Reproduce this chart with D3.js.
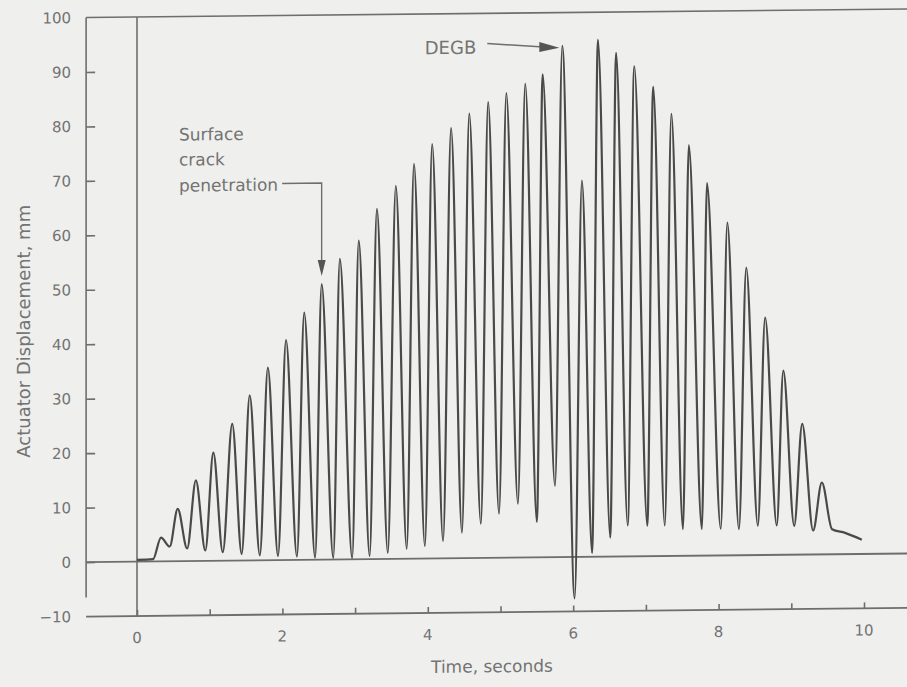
<!DOCTYPE html>
<html>
<head>
<meta charset="utf-8">
<script src="https://cdn.jsdelivr.net/npm/d3@7"></script>
<style>
  html, body { margin: 0; padding: 0; background: #efefed; }
  svg { display: block; }
  text { font-family: "DejaVu Sans", "Liberation Sans", sans-serif; fill: #737373; }
</style>
</head>
<body>
<svg id="chart" width="907" height="687"></svg>
<script>
// Actuator displacement record: successive turning points of the trace
// (time in seconds, displacement in mm).
const traceTime = [
  0.00, 0.22, 0.33, 0.45, 0.56, 0.69, 0.81, 0.94, 1.05, 1.18,
  1.31, 1.44, 1.55, 1.69, 1.80, 1.94, 2.05, 2.20, 2.30, 2.45,
  2.54, 2.70, 2.79, 2.96, 3.05, 3.20, 3.30, 3.45, 3.56, 3.71,
  3.81, 3.96, 4.06, 4.21, 4.32, 4.47, 4.57, 4.73, 4.83, 4.98,
  5.08, 5.24, 5.34, 5.50, 5.58, 5.75, 5.85, 6.02, 6.12, 6.26,
  6.34, 6.51, 6.59, 6.75, 6.84, 7.02, 7.10, 7.26, 7.35, 7.51,
  7.59, 7.77, 7.84, 8.03, 8.12, 8.28, 8.38, 8.54, 8.64, 8.80,
  8.89, 9.04, 9.15, 9.30, 9.42, 9.56, 9.74, 9.97
];
const traceDisp = [
  0.3, 0.4, 4.35, 2.7, 9.6, 2.3, 14.8, 1.9, 19.85, 1.55,
  25.1, 1.2, 30.3, 0.9, 35.35, 0.75, 40.4, 0.6, 45.4, 0.35,
  50.6, 0.25, 55.2, 0.2, 58.5, 0.55, 64.3, 1.1, 68.5, 1.8,
  72.5, 2.3, 76.1, 3.2, 79.0, 4.7, 81.6, 6.3, 83.7, 8.1,
  85.3, 9.9, 87.0, 6.5, 88.7, 13.1, 93.9, -7.6, 69.1, 0.7,
  94.9, 3.5, 92.5, 5.7, 90.0, 5.6, 86.2, 5.6, 81.2, 4.9,
  75.4, 4.9, 68.4, 4.9, 61.1, 4.8, 52.8, 5.4, 43.6, 5.4,
  33.8, 5.3, 24.0, 4.4, 13.2, 4.6, 3.9, 2.6
];

const xTicks = [0, 1, 2, 3, 4, 5, 6, 7, 8, 9, 10];
const xTickLabels = [0, 2, 4, 6, 8, 10];
const yTicks = [0, 10, 20, 30, 40, 50, 60, 70, 80, 90];
const yTickLabels = [-10, 0, 10, 20, 30, 40, 50, 60, 70, 80, 90, 100];

const xTitle = "Time, seconds";
const yTitle = "Actuator Displacement, mm";
const crackNote = ["Surface", "crack", "penetration"];
const crackTime = 2.54;
const breakNote = "DEGB";
const breakTime = 5.85;

const W = 907, H = 687;
const x = d3.scaleLinear().domain([0, 10]).range([137, 864]);
const y = d3.scaleLinear().domain([-10, 100]).range([616, 17]);
const frameLeft = x(-0.70), frameRight = W;

const svg = d3.select("#chart");
svg.append("rect").attr("width", W).attr("height", H).attr("fill", "#efefed");

// the whole sheet sits slightly askew
const g = svg.append("g")
  .attr("transform", `translate(${x(0)},${y(0)}) skewY(-0.6) translate(${-x(0)},${-y(0)})`);

const axisColor = "#6e6e6e";

// frame: top rule and left axis
g.append("line").attr("x1", frameLeft).attr("x2", frameRight)
  .attr("y1", y(100)).attr("y2", y(100))
  .attr("stroke", axisColor).attr("stroke-width", 1.6);
g.append("line").attr("x1", frameLeft).attr("x2", frameLeft)
  .attr("y1", y(100)).attr("y2", y(-6.5))
  .attr("stroke", axisColor).attr("stroke-width", 1.6);

// y axis ticks and labels
const yAxis = d3.axisRight(y).tickValues(yTicks).tickSize(9).tickFormat("");
const yG = g.append("g").attr("transform", `translate(${frameLeft},0)`).call(yAxis);
yG.select(".domain").remove();
yG.selectAll(".tick line").attr("stroke", axisColor).attr("stroke-width", 1.6);

g.selectAll(".ylab").data(yTickLabels).join("text")
  .attr("class", "ylab")
  .attr("x", frameLeft - 15).attr("y", d => y(d))
  .attr("dy", "0.36em").attr("text-anchor", "end")
  .attr("font-size", 15)
  .text(d => d < 0 ? "\u2212" + Math.abs(d) : d);

// time axis at the bottom
const xAxis = d3.axisTop(x).tickValues(xTicks).tickSize(6).tickFormat("");
const xG = g.append("g").attr("transform", `translate(0,${y(-10)})`).call(xAxis);
xG.select(".domain").remove();
xG.selectAll(".tick line").attr("stroke", axisColor).attr("stroke-width", 1.6);
g.append("line").attr("x1", frameLeft).attr("x2", frameRight)
  .attr("y1", y(-10)).attr("y2", y(-10))
  .attr("stroke", axisColor).attr("stroke-width", 1.8);

g.selectAll(".xlab").data(xTickLabels).join("text")
  .attr("class", "xlab")
  .attr("x", d => x(d)).attr("y", y(-10) + 27)
  .attr("text-anchor", "middle").attr("font-size", 15)
  .text(d => d);

// zero line and time-origin line
g.append("line").attr("x1", frameLeft).attr("x2", frameRight)
  .attr("y1", y(0)).attr("y2", y(0))
  .attr("stroke", axisColor).attr("stroke-width", 1.8);
g.append("line").attr("x1", x(0)).attr("x2", x(0))
  .attr("y1", y(100)).attr("y2", y(-10))
  .attr("stroke", axisColor).attr("stroke-width", 1.6);

// axis titles
g.append("text").attr("x", 492).attr("y", y(-10) + 60)
  .attr("text-anchor", "middle").attr("font-size", 17).text(xTitle);
g.append("text")
  .attr("transform", `translate(24,${y(42.5)}) rotate(-90)`)
  .attr("dy", "0.36em")
  .attr("text-anchor", "middle").attr("font-size", 18).text(yTitle);

// displacement trace
const pts = traceTime.map((t, i) => [t, traceDisp[i]]);
g.append("path").datum(pts)
  .attr("fill", "none").attr("stroke", "#4a4a4a").attr("stroke-width", 2.2)
  .attr("stroke-linejoin", "round")
  .attr("d", d3.line().x(d => x(d[0])).y(d => y(d[1])).curve(d3.curveMonotoneX));

// "Surface crack penetration" callout
const crackPeak = traceDisp[traceTime.indexOf(crackTime)];
const noteX = 179;
const noteY = [141, 166, 192];
const notes = g.selectAll(".crack").data(crackNote).join("text")
  .attr("class", "crack")
  .attr("x", noteX).attr("y", (d, i) => noteY[i])
  .attr("font-size", 17).text(d => d);
const lastW = notes.filter((d, i) => i === 2).node().getComputedTextLength();
const leadY = noteY[2] - 7;
const tipX = x(crackTime), tipY = y(crackPeak) - 8;
g.append("path")
  .attr("d", `M${noteX + lastW + 4},${leadY}H${tipX}V${tipY - 14}`)
  .attr("fill", "none").attr("stroke", axisColor).attr("stroke-width", 1.4);
g.append("path")
  .attr("d", `M${tipX - 4},${tipY - 16}L${tipX + 4},${tipY - 16}L${tipX},${tipY}Z`)
  .attr("fill", "#555");

// DEGB callout
const breakPeak = traceDisp[traceTime.indexOf(breakTime)];
const bx = x(breakTime) - 3, by = y(breakPeak) + 2;
g.append("text").attr("x", bx - 83).attr("y", by + 5)
  .attr("text-anchor", "end").attr("font-size", 18).text(breakNote);
g.append("line").attr("x1", bx - 72).attr("y1", by - 5).attr("x2", bx - 16).attr("y2", by - 1)
  .attr("stroke", axisColor).attr("stroke-width", 1.4);
g.append("path")
  .attr("d", `M${bx - 20},${by - 6}L${bx},${by}L${bx - 20},${by + 4}Z`)
  .attr("fill", "#555");
</script>
</body>
</html>
